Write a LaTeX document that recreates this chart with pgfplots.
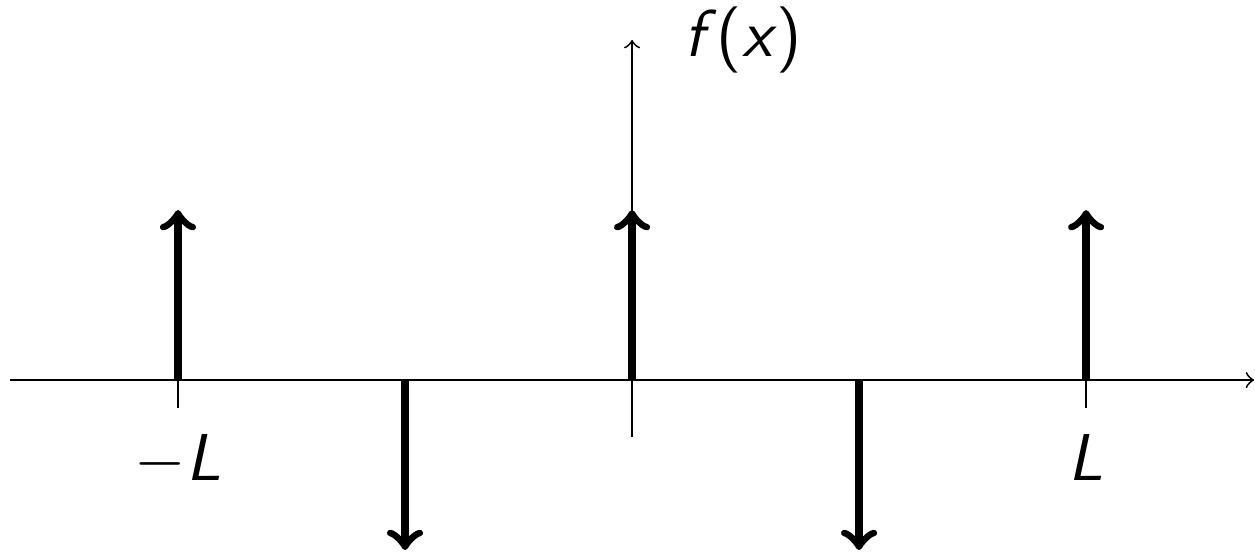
\documentclass[border=0pt]{standalone}
\usepackage{pgfplots}
\pgfplotsset{compat=1.18}
\usepackage{fontspec}

\begin{document}
\begin{tikzpicture}
  \begin{axis}[
      scale only axis,
      width=270.4pt,
      height=86.3pt,
      axis lines=middle,
      axis line style={->, line width=0.4pt},
      xmin=-1.37, xmax=1.37,
      ymin=-0.335, ymax=2.0,
      xtick={-1,1},
      xticklabels={{$-$\hspace{0.3pt}\textsf{\textit{L}}}, {\textsf{\textit{L}}}},
      ytick=\empty,
      tick align=outside,
      major tick length=6pt,
      tick style={line width=0.4pt, black},
      xticklabel style={font=\fontsize{14.4}{17}\selectfont, yshift=-2.4pt},
      clip=false,
    ]
    % impulses: x, y, u, v
    \addplot[
      quiver={u=\thisrow{u}, v=\thisrow{v}},
      -to, line width=1.75pt, black,
    ] table {
      x     y  u  v
      -1    0  0  1
      -0.5  0  0  -1
      0     0  0  1
      0.5   0  0  -1
      1     0  0  1
    };
    \node[font=\fontsize{14.4}{17}\selectfont] at (axis cs:0.245,2.0)
      {\textsf{\textit{f\/}(\textit{x})}};
    \coordinate (bl) at (axis cs:-1.392,-1.006);
    \coordinate (tr) at (axis cs:1.372,2.235);
  \end{axis}
  \pgfresetboundingbox
  \useasboundingbox (bl) rectangle (tr);
\end{tikzpicture}
\end{document}
